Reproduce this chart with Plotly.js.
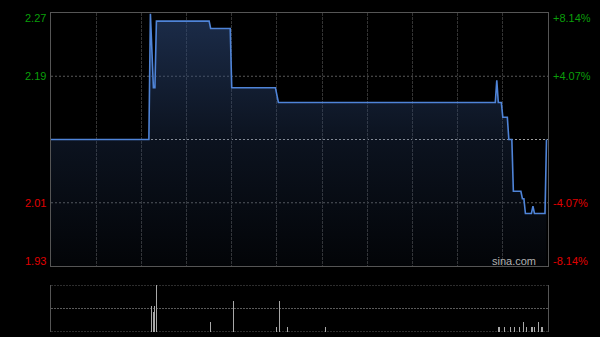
<!DOCTYPE html>
<html>
<head>
<meta charset="utf-8">
<script src="https://cdn.plot.ly/plotly-3.0.1.min.js"></script>
<style>html,body{margin:0;padding:0;background:#000;}#chart{width:600px;height:337px;}</style>
</head>
<body>
<div id="chart"></div>
<script>
// Intraday price (minutes since open, 330-minute session)
const prevClose = 2.10;
const minutes = [0, 65, 66, 68, 69, 70, 105, 106, 119, 120, 149, 150, 151, 295, 296, 297, 299, 300, 303, 304, 306, 307, 312, 313, 314, 315, 319, 320, 321, 328, 329];
const prices  = [2.10, 2.10, 2.27, 2.17, 2.17, 2.26, 2.26, 2.25, 2.25, 2.17, 2.17, 2.16, 2.15, 2.15, 2.18, 2.15, 2.15, 2.13, 2.13, 2.10, 2.10, 2.03, 2.03, 2.02, 2.02, 2.00, 2.00, 2.01, 2.00, 2.00, 2.10];

// Volume bars
const volMinutes = [67, 68, 69, 70, 106, 121, 150, 152, 157, 182, 297, 298, 301, 305, 308, 311, 314, 316, 319, 320, 321, 324, 326];
const volumes    = [55, 43, 55, 100, 21, 65, 11, 65, 11, 11, 11, 11, 11, 11, 11, 11, 21, 11, 11, 11, 11, 21, 11];

// Axis labels
const leftLabels  = ['2.27', '2.19', '2.01', '1.93'];
const rightLabels = ['+8.14%', '+4.07%', '-4.07%', '-8.14%'];
const pctLevels   = [0.0814, 0.0407, -0.0407, -0.0814];

const yTop = prevClose * (1 + 0.0814);
const yBot = prevClose * (1 - 0.0814);
const sessionLen = 330;

const green = '#0a9e0a', red = '#e00000';
const labelFont = {family: 'Liberation Sans, Arial, sans-serif', size: 11};

const traces = [
  {
    type: 'scatter', mode: 'lines', x: minutes, y: prices,
    xaxis: 'x', yaxis: 'y',
    line: {color: '#4f84d8', width: 1.6, shape: 'linear'},
    fill: 'tozeroy',
    fillgradient: {type: 'vertical', start: yBot, stop: yTop,
      colorscale: [[0, 'rgba(45,72,120,0.06)'], [0.5, 'rgba(45,72,120,0.26)'], [1, 'rgba(45,72,120,0.62)']]},
    hoverinfo: 'skip'
  },
  {
    type: 'bar', x: volMinutes, y: volumes, xaxis: 'x2', yaxis: 'y2',
    width: 0.7, marker: {color: '#a8a8a8', line: {width: 0}}, hoverinfo: 'skip'
  }
];

const annotations = [];
pctLevels.forEach((p, i) => {
  const yv = prevClose * (1 + p);
  const col = p > 0 ? green : red;
  let ys = 0;
  if (i === 0) ys = -5;
  if (i === pctLevels.length - 1) ys = 5;
  annotations.push({xref: 'paper', yref: 'y', x: 0, y: yv, xanchor: 'right', yanchor: 'middle',
    xshift: -3, yshift: ys, text: leftLabels[i], showarrow: false, font: Object.assign({color: col}, labelFont)});
  annotations.push({xref: 'paper', yref: 'y', x: 1, y: yv, xanchor: 'left', yanchor: 'middle',
    xshift: 3, yshift: ys, text: rightLabels[i], showarrow: false, font: Object.assign({color: col}, labelFont)});
});
annotations.push({xref: 'paper', yref: 'y', x: 1, y: yBot, xanchor: 'right', yanchor: 'middle',
  xshift: -10, yshift: 5, text: 'sina.com', showarrow: false,
  font: {family: 'Liberation Sans, Arial, sans-serif', size: 11, color: '#b0b0b0'}});

const shapes = [];
[0.0407, -0.0407].forEach(p => {
  shapes.push({type: 'line', xref: 'paper', yref: 'y', x0: 0, x1: 1, y0: prevClose * (1 + p), y1: prevClose * (1 + p),
    line: {color: '#585858', width: 1, dash: '2px,2px'}, layer: 'below'});
});
shapes.push({type: 'line', xref: 'paper', yref: 'y', x0: 0, x1: 1, y0: prevClose, y1: prevClose,
  line: {color: '#a0a0a0', width: 1, dash: '2px,2px'}, layer: 'below'});
[0, 50, 100].forEach(v => {
  shapes.push({type: 'line', xref: 'paper', yref: 'y2', x0: 0, x1: 1, y0: v, y1: v,
    line: {color: '#5a5a5a', width: 1, dash: '2px,1px'}, layer: 'below'});
});

const mainBottom = (332 - 266) / 319;
const volTop = (332 - 285) / 319;

const layout = {
  width: 600, height: 337,
  paper_bgcolor: '#000', plot_bgcolor: '#000',
  margin: {l: 51, r: 52, t: 13, b: 5, pad: 0},
  showlegend: false,
  xaxis: {domain: [0, 1], range: [0, sessionLen], anchor: 'y', showgrid: true, tick0: 0, dtick: 30,
    gridcolor: '#333', griddash: '3px,1px', gridwidth: 1, showticklabels: false, ticks: '',
    zeroline: false, showline: true, mirror: true, linecolor: '#555', linewidth: 1, fixedrange: true},
  yaxis: {domain: [mainBottom, 1], range: [yBot, yTop], anchor: 'x', showgrid: false, showticklabels: false,
    ticks: '', zeroline: false, showline: true, mirror: true, linecolor: '#555', linewidth: 1, fixedrange: true},
  xaxis2: {domain: [0, 1], range: [0, sessionLen], anchor: 'y2', showgrid: false, showticklabels: false,
    ticks: '', zeroline: false, showline: false, fixedrange: true},
  yaxis2: {domain: [0, volTop], range: [0, 100], anchor: 'x2', showgrid: false, showticklabels: false,
    ticks: '', zeroline: false, showline: true, mirror: true, linecolor: '#555', linewidth: 1, fixedrange: true},
  bargap: 0,
  annotations: annotations,
  shapes: shapes
};

Plotly.newPlot('chart', traces, layout, {displayModeBar: false, staticPlot: true});
</script>
</body>
</html>
